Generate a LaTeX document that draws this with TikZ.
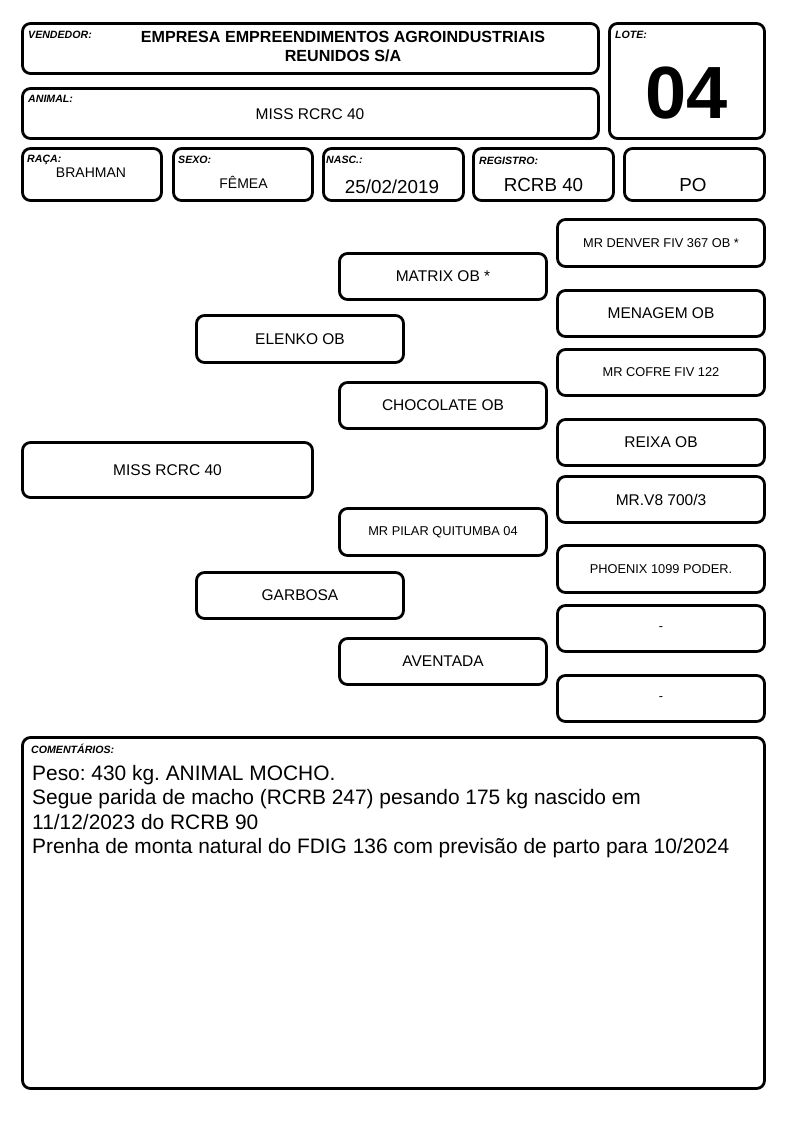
\documentclass[tikz,border=0pt]{standalone}
\usepackage{fontspec}
\setmainfont{Liberation Sans}
\frenchspacing

\begin{document}
\begin{tikzpicture}[x=1pt,y=-1pt,
    cell/.style={draw, rounded corners=8pt, line width=2.8pt, inner sep=0pt, align=center},
    tag/.style={anchor=base west, inner sep=0pt, font=\fontsize{10.6}{12}\selectfont\bfseries\itshape},
    value/.style={anchor=base, inner sep=0pt},
    bigtxt/.style={font=\fontsize{15.5}{18}\selectfont},
    smalltxt/.style={font=\fontsize{12.8}{15}\selectfont}
    ]
  \useasboundingbox (0,0) rectangle (794,1123);
  % cabecalho
  \node[cell, minimum width=576pt, minimum height=50pt] at (310.5,48.5) (vendedor) {};
  \node[tag] at (28,39) (vendedor-tag) {VENDEDOR:};
  \node[inner sep=0pt, align=center, font=\fontsize{16.1}{19.4}\selectfont\bfseries] at (343,46.7) (vendedor-txt)
    {EMPRESA EMPREENDIMENTOS AGROINDUSTRIAIS\\REUNIDOS S/A};
  \node[cell, minimum width=155pt, minimum height=115pt] at (687,81) (lote) {};
  \node[tag] at (615,39) (lote-tag) {LOTE:};
  \node[value, font=\fontsize{74}{80}\selectfont\bfseries] at (687,118.3) (lote-txt) {04};
  \node[cell, minimum width=576pt, minimum height=50pt] at (310.5,113.5) (animal) {};
  \node[tag] at (28,103) (animal-tag) {ANIMAL:};
  \node[value, bigtxt] at (310,119.3) (animal-txt) {MISS RCRC 40};
  % linha de dados
  \node[cell, minimum width=139pt, minimum height=52pt] at (92,174.5) (raca) {};
  \node[cell, minimum width=139pt, minimum height=52pt] at (243,174.5) (sexo) {};
  \node[cell, minimum width=140pt, minimum height=52pt] at (393.5,174.5) (nasc) {};
  \node[cell, minimum width=140pt, minimum height=52pt] at (543.5,174.5) (registro) {};
  \node[cell, minimum width=140pt, minimum height=52pt] at (694.5,174.5) (po) {};
  \node[tag] at (27,163) (raca-tag) {RAÇA:};
  \node[tag] at (178,164) (sexo-tag) {SEXO:};
  \node[tag] at (326,164) (nasc-tag) {NASC.:};
  \node[tag] at (479,165) (registro-tag) {REGISTRO:};
  \node[value, font=\fontsize{14}{16}\selectfont] at (91,178) (raca-txt) {BRAHMAN};
  \node[value, font=\fontsize{14}{16}\selectfont] at (243.5,189) (sexo-txt) {FÊMEA};
  \node[value, font=\fontsize{18.8}{22}\selectfont] at (392,193.3) (nasc-txt) {25/02/2019};
  \node[value, font=\fontsize{18.8}{22}\selectfont] at (543.5,191.7) (registro-txt) {RCRB 40};
  \node[value, font=\fontsize{18.8}{22}\selectfont] at (693,191.7) (po-txt) {PO};
  % genealogia
  \node[cell, bigtxt, minimum width=290pt, minimum height=55pt] at (167.5,470) (animal-gen) {MISS RCRC 40};
  \node[cell, bigtxt, minimum width=207pt, minimum height=47pt] at (300,339) (pai) {ELENKO OB};
  \node[cell, bigtxt, minimum width=207pt, minimum height=46pt] at (300,595.5) (mae) {GARBOSA};
  \node[cell, bigtxt, minimum width=207pt, minimum height=46pt] at (443,276.5) (pai-pai) {MATRIX OB *};
  \node[cell, bigtxt, minimum width=207pt, minimum height=46pt] at (443,405.5) (pai-mae) {CHOCOLATE OB};
  \node[cell, smalltxt, minimum width=207pt, minimum height=47pt] at (443,532) (mae-pai) {MR PILAR QUITUMBA 04};
  \node[cell, bigtxt, minimum width=207pt, minimum height=46pt] at (443,661.5) (mae-mae) {AVENTADA};
  \node[cell, smalltxt, minimum width=207pt, minimum height=47pt] at (661,243) (bisavo1) {MR DENVER FIV 367 OB *};
  \node[cell, bigtxt, minimum width=207pt, minimum height=46pt] at (661,313.5) (bisavo2) {MENAGEM OB};
  \node[cell, smalltxt, minimum width=207pt, minimum height=46pt] at (661,372.5) (bisavo3) {MR COFRE FIV 122};
  \node[cell, bigtxt, minimum width=207pt, minimum height=46pt] at (661,442.5) (bisavo4) {REIXA OB};
  \node[cell, bigtxt, minimum width=207pt, minimum height=46pt] at (661,499.5) (bisavo5) {MR.V8 700/3};
  \node[cell, smalltxt, minimum width=207pt, minimum height=47pt] at (661,569) (bisavo6) {PHOENIX 1099 PODER.};
  \node[cell, smalltxt, minimum width=207pt, minimum height=46pt] at (661,628.5) (bisavo7) {-};
  \node[cell, smalltxt, minimum width=207pt, minimum height=46pt] at (661,698.5) (bisavo8) {-};
  % comentarios
  \node[cell, minimum width=742pt, minimum height=351pt] at (393.5,913) (comentarios) {};
  \node[tag] at (31,753) (comentarios-tag) {COMENTÁRIOS:};
  \node[anchor=north west, inner sep=0pt, align=left, font=\fontsize{20.9}{24.4}\selectfont] at (32,765.1) (comentarios-txt)
    {Peso: 430 kg. ANIMAL MOCHO.\\
     Segue parida de macho (RCRB 247) pesando 175 kg nascido em\\
     11/12/2023 do RCRB 90\\
     Prenha de monta natural do FDIG 136 com previsão de parto para 10/2024};
\end{tikzpicture}
\end{document}
